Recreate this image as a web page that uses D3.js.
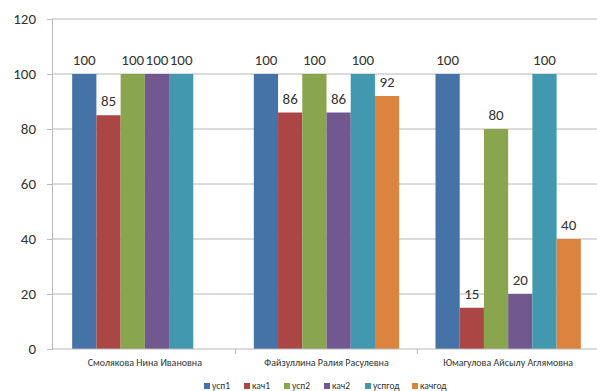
<!DOCTYPE html>
<html>
<head>
<meta charset="utf-8">
<script src="https://cdn.jsdelivr.net/npm/d3@7"></script>
<style>
  body { margin: 0; background: #fff; }
  text { font-family: Calibri, Carlito, "Liberation Sans", Arial, sans-serif; }
</style>
</head>
<body>
<script>
// teachers (categories)
const teachers = ["Смолякова Нина Ивановна", "Файзуллина Ралия Расулевна", "Юмагулова Айсылу Аглямовна"];
// series
const seriesNames = ["усп1", "кач1", "усп2", "кач2", "успгод", "качгод"];
const usp1 = [100, 100, 100];
const kach1 = [85, 86, 15];
const usp2 = [100, 100, 80];
const kach2 = [100, 86, 20];
const uspgod = [100, 100, 100];
const kachgod = [null, 92, 40];
const colors = ["#4572A7", "#AA4643", "#89A54E", "#71588F", "#4198AF", "#DB843D"];
const yTicks = [0, 20, 40, 60, 80, 100, 120];

const seriesValues = [usp1, kach1, usp2, kach2, uspgod, kachgod];

const width = 597, height = 391;
const margin = {top: 19, right: -2, bottom: 42, left: 52};

const svg = d3.select("body")
  .append("svg")
  .attr("width", width)
  .attr("height", height);

const x0 = d3.scaleBand() // band per teacher
  .domain(teachers)
  .range([margin.left + 2, width - margin.right])
  .paddingInner(0)
  .paddingOuter(0);

const x1 = d3.scaleBand() // band per series inside a group
  .domain(seriesNames)
  .range([0, x0.bandwidth()])
  .paddingInner(0)
  .paddingOuter(0.75);

const y = d3.scaleLinear()
  .domain([0, 120])
  .range([height - margin.bottom, margin.top]);

// gridlines
svg.append("g")
  .selectAll("line")
  .data(yTicks.slice(1))
  .join("line")
  .attr("x1", margin.left)
  .attr("x2", width)
  .attr("y1", d => y(d))
  .attr("y2", d => y(d))
  .style("stroke", "#b8b8b8")
  .style("stroke-width", 1);

// y axis
const yAxis = svg.append("g")
  .attr("transform", `translate(${margin.left},0)`)
  .call(d3.axisLeft(y).tickValues(yTicks).tickSize(5).tickPadding(11));
yAxis.select(".domain").style("stroke", "#b8b8b8");
yAxis.selectAll(".tick line").style("stroke", "#b8b8b8");
yAxis.selectAll("text")
  .style("font-size", "15px")
  .style("fill", "#333");

// bars
const groups = svg.append("g")
  .selectAll("g")
  .data(teachers)
  .join("g")
  .attr("transform", d => `translate(${x0(d)},0)`);

groups.selectAll("rect")
  .data((d, i) => seriesNames.map((s, j) => ({s, j, v: seriesValues[j][i]})).filter(e => e.v != null))
  .join("rect")
  .attr("x", e => x1(e.s))
  .attr("y", e => y(e.v))
  .attr("width", x1.bandwidth())
  .attr("height", e => y(0) - y(e.v))
  .style("fill", e => colors[e.j]);

groups.selectAll("text")
  .data((d, i) => seriesNames.map((s, j) => ({s, j, v: seriesValues[j][i]})).filter(e => e.v != null))
  .join("text")
  .attr("x", e => x1(e.s) + x1.bandwidth() / 2)
  .attr("y", e => y(e.v) - 9)
  .attr("text-anchor", "middle")
  .style("font-size", "15px")
  .style("fill", "#333")
  .text(e => e.v);

// x axis
const xAxis = svg.append("g")
  .attr("transform", `translate(0,${y(0)})`)
  .call(d3.axisBottom(x0).tickSize(0).tickPadding(10));
xAxis.select(".domain").attr("d", `M${margin.left},0H${width}`).style("stroke", "#b8b8b8");
xAxis.selectAll("text")
  .style("font-size", "10px")
  .style("fill", "#333");
// category separators
svg.append("g")
  .selectAll("line")
  .data(teachers.slice(1))
  .join("line")
  .attr("x1", d => x0(d))
  .attr("x2", d => x0(d))
  .attr("y1", y(0))
  .attr("y2", y(0) + 5)
  .style("stroke", "#b8b8b8");

// legend
const legend = svg.append("g")
  .attr("transform", "translate(204,386)");
const legendX = [0, 40, 80, 120, 161, 208];
const items = legend.selectAll("g")
  .data(seriesNames)
  .join("g")
  .attr("transform", (d, i) => `translate(${legendX[i]},0)`);
items.append("rect")
  .attr("x", 0)
  .attr("y", -3)
  .attr("width", 6)
  .attr("height", 6)
  .style("fill", (d, i) => colors[i]);
items.append("text")
  .attr("x", 8)
  .attr("y", 3)
  .style("font-size", "9.5px")
  .style("fill", "#333")
  .text(d => d);
</script>
</body>
</html>
